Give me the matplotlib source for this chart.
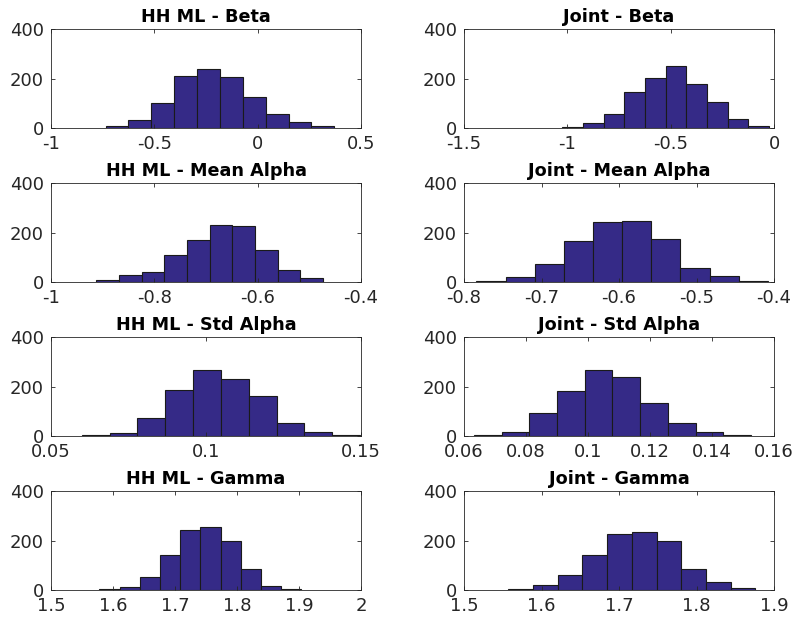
import numpy as np
import matplotlib.pyplot as plt

# bin counts (10 bins each) and the data range the bins span
titles = ['HH ML - Beta', 'Joint - Beta',
          'HH ML - Mean Alpha', 'Joint - Mean Alpha',
          'HH ML - Std Alpha', 'Joint - Std Alpha',
          'HH ML - Gamma', 'Joint - Gamma']

hh_beta = [8, 32, 102, 209, 240, 205, 124, 57, 24, 8]
joint_beta = [5, 22, 55, 144, 202, 251, 176, 104, 36, 8]
hh_mean_alpha = [8, 27, 42, 111, 171, 229, 225, 130, 50, 15]
joint_mean_alpha = [3, 20, 73, 164, 241, 248, 175, 57, 23, 4]
hh_std_alpha = [3, 14, 71, 186, 265, 229, 163, 53, 15, 3]
joint_std_alpha = [4, 18, 93, 182, 265, 240, 135, 52, 15, 5]
hh_gamma = [4, 14, 53, 140, 242, 256, 196, 84, 16, 5]
joint_gamma = [4, 21, 62, 141, 227, 235, 199, 84, 34, 10]

counts = [hh_beta, joint_beta, hh_mean_alpha, joint_mean_alpha,
          hh_std_alpha, joint_std_alpha, hh_gamma, joint_gamma]

bin_ranges = [(-0.736, 0.371), (-1.025, -0.024),
              (-0.912, -0.474), (-0.784, -0.408),
              (0.0599, 0.1497), (0.0632, 0.1526),
              (1.578, 1.904), (1.557, 1.876)]

xlims = [(-1, 0.5), (-1.5, 0),
         (-1, -0.4), (-0.8, -0.4),
         (0.05, 0.15), (0.06, 0.16),
         (1.5, 2), (1.5, 1.9)]

xticks = [[-1, -0.5, 0, 0.5], [-1.5, -1, -0.5, 0],
          [-1, -0.8, -0.6, -0.4], [-0.8, -0.7, -0.6, -0.5, -0.4],
          [0.05, 0.1, 0.15], [0.06, 0.08, 0.1, 0.12, 0.14, 0.16],
          [1.5, 1.6, 1.7, 1.8, 1.9, 2], [1.5, 1.6, 1.7, 1.8, 1.9]]

W, H = 792, 617
fig = plt.figure(figsize=(W / 100, H / 100), dpi=100)

col_left = [51, 464]
col_width = 310
row_top = [29, 183, 337, 491]
row_height = 99

bar_color = '#352a87'
axis_color = '#262626'

for i in range(8):
    r, c = divmod(i, 2)
    ax = fig.add_axes([col_left[c] / W, 1 - (row_top[r] + row_height) / H,
                       col_width / W, row_height / H])
    lo, hi = bin_ranges[i]
    edges = np.linspace(lo, hi, len(counts[i]) + 1)
    ax.bar(edges[:-1], counts[i], width=np.diff(edges), align='edge',
           color=bar_color, edgecolor='#1a1a1a', linewidth=0.8)
    ax.set_xlim(*xlims[i])
    ax.set_ylim(0, 400)
    ax.set_xticks(xticks[i])
    ax.set_xticklabels(['%g' % t for t in xticks[i]])
    ax.set_yticks([0, 200, 400])
    ax.tick_params(direction='in', top=True, right=True, length=3,
                   width=0.6, colors=axis_color, labelsize=13)
    ax.tick_params(axis='x', pad=5)
    ax.tick_params(axis='y', pad=5)
    for s in ax.spines.values():
        s.set_color(axis_color)
        s.set_linewidth(0.6)
    ax.set_title(titles[i], fontsize=12.7, fontweight='bold', pad=5)

fig.savefig('out.png', dpi=100)
